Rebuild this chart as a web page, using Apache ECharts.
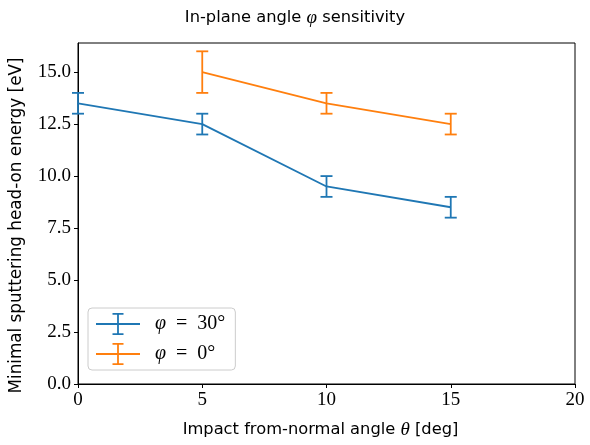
<!DOCTYPE html>
<html>
<head>
<meta charset="utf-8">
<script src="https://cdn.jsdelivr.net/npm/echarts@6/dist/echarts.min.js"></script>
<style>
html,body{margin:0;padding:0;background:#fff;}
#chart{width:590px;height:445px;}
</style>
</head>
<body>
<div id="chart"></div>
<script>
const titleText = 'In-plane angle φ sensitivity';
const xLabel = 'Impact from-normal angle θ [deg]';
const yLabel = 'Minimal sputtering head-on energy [eV]';
const xTicks = [0, 5, 10, 15, 20];
const yTicks = [0, 2.5, 5, 7.5, 10, 12.5, 15];

const seriesNames = ['φ = 30°', 'φ = 0°'];
const phi30X = [0, 5, 10, 15];
const phi30Y = [13.5, 12.5, 9.5, 8.5];
const phi30Err = [0.5, 0.5, 0.5, 0.5];
const phi0X = [5, 10, 15];
const phi0Y = [15, 13.5, 12.5];
const phi0Err = [1, 0.5, 0.5];

const colors = ['#1f77b4', '#ff7f0e'];

const chart = echarts.init(document.getElementById('chart'), null, {renderer: 'canvas'});

function pairs(xs, ys) { return xs.map((x, i) => [x, ys[i]]); }
function triples(xs, ys, es) { return xs.map((x, i) => [x, ys[i], es[i]]); }

function errRender(color) {
  return function (params, api) {
    const x = api.value(0), y = api.value(1), e = api.value(2);
    const top = api.coord([x, y + e]);
    const bot = api.coord([x, y - e]);
    const cap = 6;
    const style = {stroke: color, lineWidth: 1.8, fill: null};
    return {
      type: 'group',
      children: [
        {type: 'line', shape: {x1: top[0], y1: top[1], x2: bot[0], y2: bot[1]}, style: style},
        {type: 'line', shape: {x1: top[0] - cap, y1: top[1], x2: top[0] + cap, y2: top[1]}, style: style},
        {type: 'line', shape: {x1: bot[0] - cap, y1: bot[1], x2: bot[0] + cap, y2: bot[1]}, style: style}
      ]
    };
  };
}

const errIcon = 'path://M0,10.1 L44,10.1 L44,11.9 L0,11.9 Z M21.1,0 L22.9,0 L22.9,22 L21.1,22 Z M16.5,0 L27.5,0 L27.5,1.8 L16.5,1.8 Z M16.5,20.2 L27.5,20.2 L27.5,22 L16.5,22 Z';

const serif = 'Liberation Serif';
const sans = 'DejaVu Sans';

chart.setOption({
  animation: false,
  backgroundColor: '#fff',
  title: {
    text: '{a|In-plane angle }{m|φ}{a| sensitivity}',
    left: 'center',
    top: 3,
    textStyle: {
      fontWeight: 'normal',
      rich: {
        a: {fontFamily: sans, fontSize: 16.3, fontWeight: 'normal', color: '#000'},
        m: {fontFamily: serif, fontStyle: 'italic', fontSize: 19, fontWeight: 'normal', color: '#000'}
      }
    }
  },
  grid: {left: 78, right: 15, top: 43, bottom: 61, show: true, borderColor: '#000', borderWidth: 1, containLabel: false},
  legend: {
    left: 88, top: 308,
    orient: 'vertical',
    itemWidth: 44, itemHeight: 22,
    itemGap: 8,
    padding: [5, 10, 5, 8],
    borderColor: '#ccc', borderWidth: 1, borderRadius: 4,
    backgroundColor: 'rgba(255,255,255,0.8)',
    data: [
      {name: seriesNames[0], icon: errIcon, itemStyle: {color: colors[0]}},
      {name: seriesNames[1], icon: errIcon, itemStyle: {color: colors[1]}}
    ],
    formatter: function (name) {
      return '{m|φ}{r|\u2002=\u2002' + name.slice(4) + '}';
    },
    textStyle: {
      padding: [0, 0, 0, 10],
      rich: {
        m: {fontFamily: serif, fontStyle: 'italic', fontSize: 20, color: '#000'},
        r: {fontFamily: serif, fontSize: 20, color: '#000'}
      }
    }
  },
  xAxis: {
    type: 'value', min: 0, max: 20, interval: 5,
    name: '{a|Impact from-normal angle }{m|θ}{a| [deg]}',
    nameLocation: 'middle', nameGap: 36,
    nameTextStyle: {
      padding: [0, 12, 0, 0],
      rich: {
        a: {fontFamily: sans, fontSize: 16.3, color: '#000'},
        m: {fontFamily: serif, fontStyle: 'italic', fontSize: 19, color: '#000'}
      }
    },
    axisLine: {onZero: false, lineStyle: {color: '#000', width: 1}},
    axisTick: {inside: false, length: 4, lineStyle: {color: '#000'}, customValues: xTicks},
    axisLabel: {customValues: xTicks, fontFamily: serif, fontSize: 19, color: '#000', margin: 7},
    splitLine: {show: false}
  },
  yAxis: {
    type: 'value', min: 0, max: 16.4,
    name: yLabel,
    nameLocation: 'middle', nameGap: 53,
    nameTextStyle: {fontFamily: sans, fontSize: 16.8, color: '#000', padding: [0, 24, 0, 0]},
    axisLine: {onZero: false, lineStyle: {color: '#000', width: 1}},
    axisTick: {inside: false, length: 4, lineStyle: {color: '#000'}, customValues: yTicks},
    axisLabel: {customValues: yTicks, fontFamily: serif, fontSize: 19, color: '#000', margin: 7,
      formatter: v => v.toFixed(1)},
    splitLine: {show: false}
  },
  series: [
    {name: seriesNames[0], type: 'line', data: pairs(phi30X, phi30Y), showSymbol: false, symbol: 'none',
      lineStyle: {color: colors[0], width: 1.8}, itemStyle: {color: colors[0]}, z: 3},
    {name: seriesNames[0], type: 'custom', data: triples(phi30X, phi30Y, phi30Err), renderItem: errRender(colors[0]),
      itemStyle: {color: colors[0]}, z: 3},
    {name: seriesNames[1], type: 'line', data: pairs(phi0X, phi0Y), showSymbol: false, symbol: 'none',
      lineStyle: {color: colors[1], width: 1.8}, itemStyle: {color: colors[1]}, z: 3},
    {name: seriesNames[1], type: 'custom', data: triples(phi0X, phi0Y, phi0Err), renderItem: errRender(colors[1]),
      itemStyle: {color: colors[1]}, z: 3}
  ]
});
</script>
</body>
</html>
